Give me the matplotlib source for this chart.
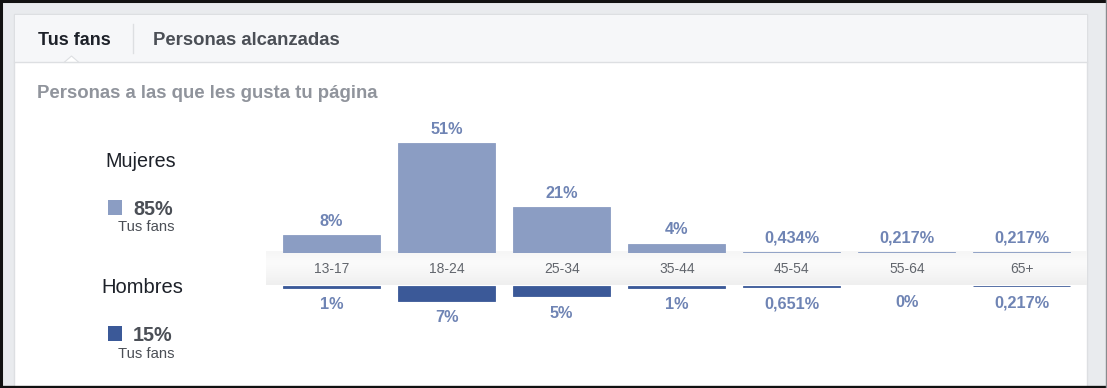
import matplotlib.pyplot as plt
import numpy as np
from matplotlib.patches import Rectangle, Polygon
from matplotlib.transforms import blended_transform_factory

# --- data ---
ages = ['13-17', '18-24', '25-34', '35-44', '45-54', '55-64', '65+']
mujeres = [8, 51, 21, 4, 0.434, 0.217, 0.217]
hombres = [1, 7, 5, 1, 0.651, 0, 0.217]
mujeres_lbl = ['8%', '51%', '21%', '4%', '0,434%', '0,217%', '0,217%']
hombres_lbl = ['1%', '7%', '5%', '1%', '0,651%', '0%', '0,217%']
total_mujeres = '85%'
total_hombres = '15%'

plt.rcParams['font.family'] = ['Liberation Sans', 'DejaVu Sans']

C_MUJ = '#8b9dc3'
C_HOM = '#3b5998'
C_LBL = '#6f84b4'
C_LINE = '#dddfe2'

W, H = 1107, 388
fig = plt.figure(figsize=(W / 100, H / 100), dpi=100)
fig.patch.set_facecolor('#e9ebee')


def px_axes(x0, y0, x1, y1):
    # axes placed with pixel coords measured from the top-left corner
    return fig.add_axes([x0 / W, 1 - y1 / H, (x1 - x0) / W, (y1 - y0) / H])


# background / page chrome
bg = px_axes(0, 0, W, H)
bg.set_xlim(0, W)
bg.set_ylim(H, 0)
bg.axis('off')

bg.add_patch(Rectangle((14, 14), 1073, 380, facecolor='white', edgecolor=C_LINE, lw=1))
bg.add_patch(Rectangle((14.5, 14.5), 1072, 47.5, facecolor='#f6f7f9', edgecolor='none'))
bg.plot([14, 1087], [62, 62], color=C_LINE, lw=1)
bg.plot([133, 133], [24, 53], color=C_LINE, lw=1)
bg.add_patch(Polygon([[64, 62.5], [71.5, 56], [79, 62.5]], closed=True,
                     facecolor='white', edgecolor=C_LINE, lw=0.8))

# screenshot frame
bg.plot([0, W], [1, 1], color='#111111', lw=2.2)
bg.plot([1.2, 1.2], [0, H], color='#111111', lw=2.2)
bg.plot([0, W], [386.8, 386.8], color='#111111', lw=2.4)
bg.plot([1105.8, 1105.8], [0, H], color='#8a8b8e', lw=1.0)

bg.text(38, 45, 'Tus fans', fontsize=13, fontweight='bold', color='#1d2129')
bg.text(153, 45, 'Personas alcanzadas', fontsize=13.3, fontweight='bold', color='#4b4f56')
bg.text(37, 97.5, 'Personas a las que les gusta tu página', fontsize=13.4,
        fontweight='bold', color='#90949c')

# legend on the left
bg.text(141, 167, 'Mujeres', fontsize=14.2, color='#1d2129', ha='center')
bg.add_patch(Rectangle((108, 200), 14, 15, facecolor=C_MUJ, edgecolor='none'))
bg.text(133, 215, total_mujeres, fontsize=14.2, fontweight='bold', color='#4b4f56')
bg.text(146, 231, 'Tus fans', fontsize=10.7, color='#4b4f56', ha='center')

bg.text(142, 293, 'Hombres', fontsize=14.5, color='#1d2129', ha='center')
bg.add_patch(Rectangle((108, 326), 14, 15, facecolor=C_HOM, edgecolor='none'))
bg.text(133, 341, total_hombres, fontsize=14.2, fontweight='bold', color='#4b4f56')
bg.text(146, 358, 'Tus fans', fontsize=10.7, color='#4b4f56', ha='center')

# grey band holding the age labels
grad = np.linspace(0, 1, 40).reshape(-1, 1)
band_cmap = plt.matplotlib.colors.LinearSegmentedColormap.from_list(
    'band', ['#f6f6f6', '#fbfbfb', '#f6f6f6', '#efefef'])
bg.imshow(grad, cmap=band_cmap, extent=[266, 1087, 285.5, 252], aspect='auto',
          zorder=1, interpolation='bilinear')
bg.set_xlim(0, W)
bg.set_ylim(H, 0)

# bar axes
s = 109.5 / 51          # pixels per percent
x_left = -(331.5 - 266) / 115.08
x_right = (1087 - 331.5) / 115.08
bw = 97 / 115.08
x = np.arange(len(ages))

top = px_axes(266, 100, 1087, 252.5)
top.set_xlim(x_left, x_right)
top.set_ylim(0, (252.5 - 100) / s)
top.axis('off')
lw_m = [0.6 if v > 0 else 0 for v in mujeres]
top.bar(x, mujeres, width=bw, color=C_MUJ, edgecolor=C_MUJ, linewidth=lw_m)
for i, (v, t) in enumerate(zip(mujeres, mujeres_lbl)):
    top.annotate(t, (i, v), xytext=(0, 9.5), textcoords='offset pixels',
                 ha='center', va='baseline', fontsize=11.7, fontweight='bold',
                 color=C_LBL, annotation_clip=False)

bot = px_axes(266, 285.5, 1087, 380)
bot.set_xlim(x_left, x_right)
bot.set_ylim((380 - 285.5) / s, 0)
bot.axis('off')
lw_h = [0.6 if v > 0 else 0 for v in hombres]
bot.bar(x, hombres, width=bw, color=C_HOM, edgecolor=C_HOM, linewidth=lw_h)
for i, (v, t) in enumerate(zip(hombres, hombres_lbl)):
    bot.annotate(t, (i, v), xytext=(0, -21.5), textcoords='offset pixels',
                 ha='center', va='baseline', fontsize=11.7, fontweight='bold',
                 color=C_LBL, annotation_clip=False)

# age labels, placed with the bar axis x scale
tr = blended_transform_factory(top.transData, bg.transData)
for i, a in enumerate(ages):
    bg.text(i, 273, a, transform=tr, ha='center', va='baseline', fontsize=10,
            color='#62666d', zorder=3)

fig.savefig('out.png', dpi=100)
